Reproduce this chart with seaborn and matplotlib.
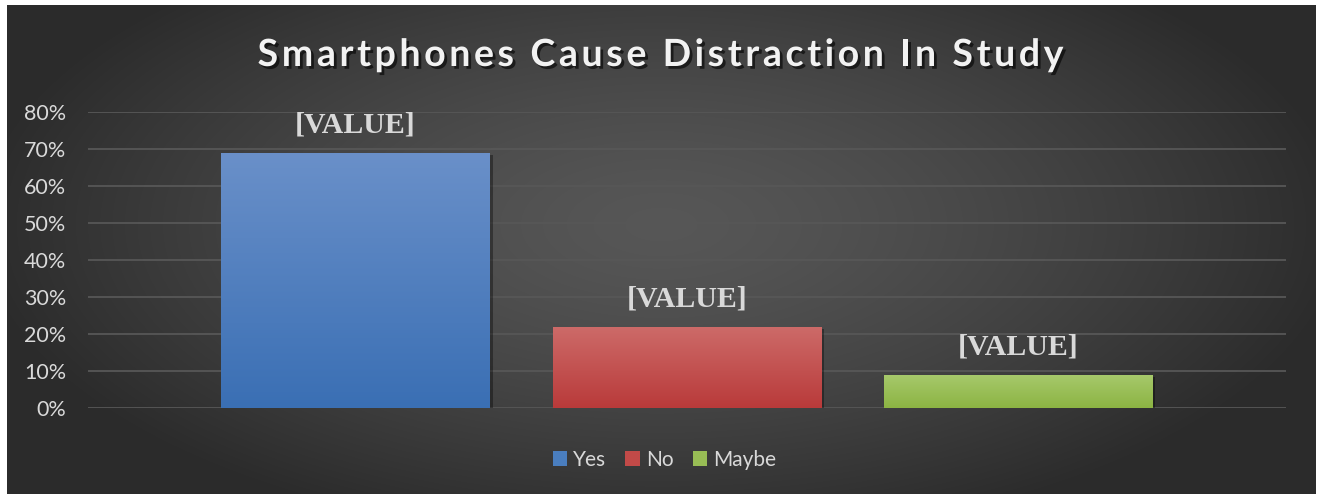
import numpy as np
import pandas as pd
import matplotlib
matplotlib.use("Agg")
import matplotlib.pyplot as plt
import matplotlib.patheffects as pe
from matplotlib.colors import LinearSegmentedColormap
from matplotlib.patches import Patch
import seaborn as sns

# ---- data ----
series = ["Yes", "No", "Maybe"]
values = [0.69, 0.22, 0.09]
labels = ["[VALUE]", "[VALUE]", "[VALUE]"]
yticks = [0, 0.1, 0.2, 0.3, 0.4, 0.5, 0.6, 0.7, 0.8]
ytick_labels = ["0%", "10%", "20%", "30%", "40%", "50%", "60%", "70%", "80%"]
title = "Smartphones Cause Distraction In Study"

top_colors = ["#6a90c9", "#cd6b69", "#a7c96c"]
bot_colors = ["#3a6fb4", "#b93a3a", "#8cb443"]
mid_colors = ["#4a7ebf", "#c24a48", "#98bd55"]

df = pd.DataFrame({"group": ["g"] * 3, "series": series, "value": values})

sns.set_theme(style="white")
plt.rcParams["font.family"] = ["Lato", "DejaVu Sans"]

W, H = 1321, 494
fig = plt.figure(figsize=(W / 100, H / 100), dpi=100)
fig.patch.set_facecolor("white")

# background radial gradient panel
bg = fig.add_axes([7 / W, 0, (1316 - 7) / W, (H - 5) / H])
bg.set_axis_off()
yy, xx = np.mgrid[-1:1:300j, -1:1:800j]
r = np.sqrt((xx / 1.0) ** 2 + ((yy + 0.1) / 1.25) ** 2)
r = np.clip(r / 1.05, 0, 1)
img = 0.34 - 0.17 * r ** 1.4
bg.imshow(np.dstack([img, img, img]), aspect="auto", extent=[0, 1, 0, 1], interpolation="bilinear")
bg.set_xlim(0, 1)
bg.set_ylim(0, 1)

ax = fig.add_axes([88 / W, (H - 408) / H, (1286 - 88) / W, (408 - 112) / H])
ax.patch.set_alpha(0)

sns.barplot(data=df, x="group", y="value", hue="series", hue_order=series,
            palette=mid_colors, width=0.83, gap=0.19, ax=ax, legend=False,
            saturation=1, zorder=3, linewidth=0, edgecolor="none")

ax.set_xlim(-0.5, 0.5)
ax.set_ylim(0, 0.8)
ax.set_yticks(yticks)
ax.set_yticklabels(ytick_labels, color="#d9d9d9", fontsize=15.5)
ax.tick_params(axis="y", length=0, pad=15.5)
ax.set_xticks([])
ax.set_xlabel("")
ax.set_ylabel("")
for s in ax.spines.values():
    s.set_visible(False)
for t in yticks:
    ax.axhline(t, color="#575757", lw=1.3, zorder=1)

# gradient fill per bar + shadow + label
bars = sorted(ax.patches, key=lambda p: p.get_x())
for i, p in enumerate(bars):
    x0, w, h = p.get_x(), p.get_width(), p.get_height()
    p.set_linewidth(0)
    cmap = LinearSegmentedColormap.from_list("g", [bot_colors[i], top_colors[i]])
    grad = np.linspace(0, 1, 256).reshape(-1, 1)
    im = ax.imshow(grad, cmap=cmap, aspect="auto", origin="lower",
                   extent=[x0, x0 + w, 0, h], zorder=4)
    im.set_clip_path(p)
    p.set_path_effects([pe.SimplePatchShadow(offset=(2, -2), shadow_rgbFace="black", alpha=0.35), pe.Normal()])
    ax.annotate(labels[i], (x0 + w / 2, h), xytext=(0, 10), textcoords="offset points",
                ha="center", va="bottom", fontsize=21.5, fontweight="bold",
                family=["Liberation Serif", "DejaVu Serif"], color="#d9d9d9", zorder=5)
ax.set_xlim(-0.5, 0.5)
ax.set_ylim(0, 0.8)

# title with letter spacing
fig.canvas.draw()
renderer = fig.canvas.get_renderer()
tkw = dict(fontsize=27, fontweight="bold", color="#f2f2f2")
spacing = 3.6  # px between letters
def width_px(s):
    if not s:
        return 0.0
    t = fig.text(0, 0, s.replace(" ", "\u00a0"), **tkw)
    wpx = t.get_window_extent(renderer).width
    t.remove()
    return wpx
total = width_px(title) + spacing * (len(title) - 1)
x_start = W / 2 - total / 2
ty = (H - 55) / H
for k, ch in enumerate(title):
    if ch == " ":
        continue
    xpx = x_start + width_px(title[:k]) + spacing * k
    fig.text(xpx / W, ty, ch, ha="left", va="center", **tkw,
             path_effects=[pe.withSimplePatchShadow(offset=(2, -2), shadow_rgbFace="black", alpha=0.6)])

# legend
handles = [Patch(facecolor=mid_colors[i], edgecolor="none", label=series[i]) for i in range(3)]
leg = fig.legend(handles=handles, loc="center", bbox_to_anchor=(0.503, (H - 460) / H), ncol=3,
                 frameon=False, fontsize=15, handlelength=0.7, handleheight=0.7,
                 handletextpad=0.3, columnspacing=0.9)
for t in leg.get_texts():
    t.set_color("#d9d9d9")

fig.savefig("out.png", dpi=100)
